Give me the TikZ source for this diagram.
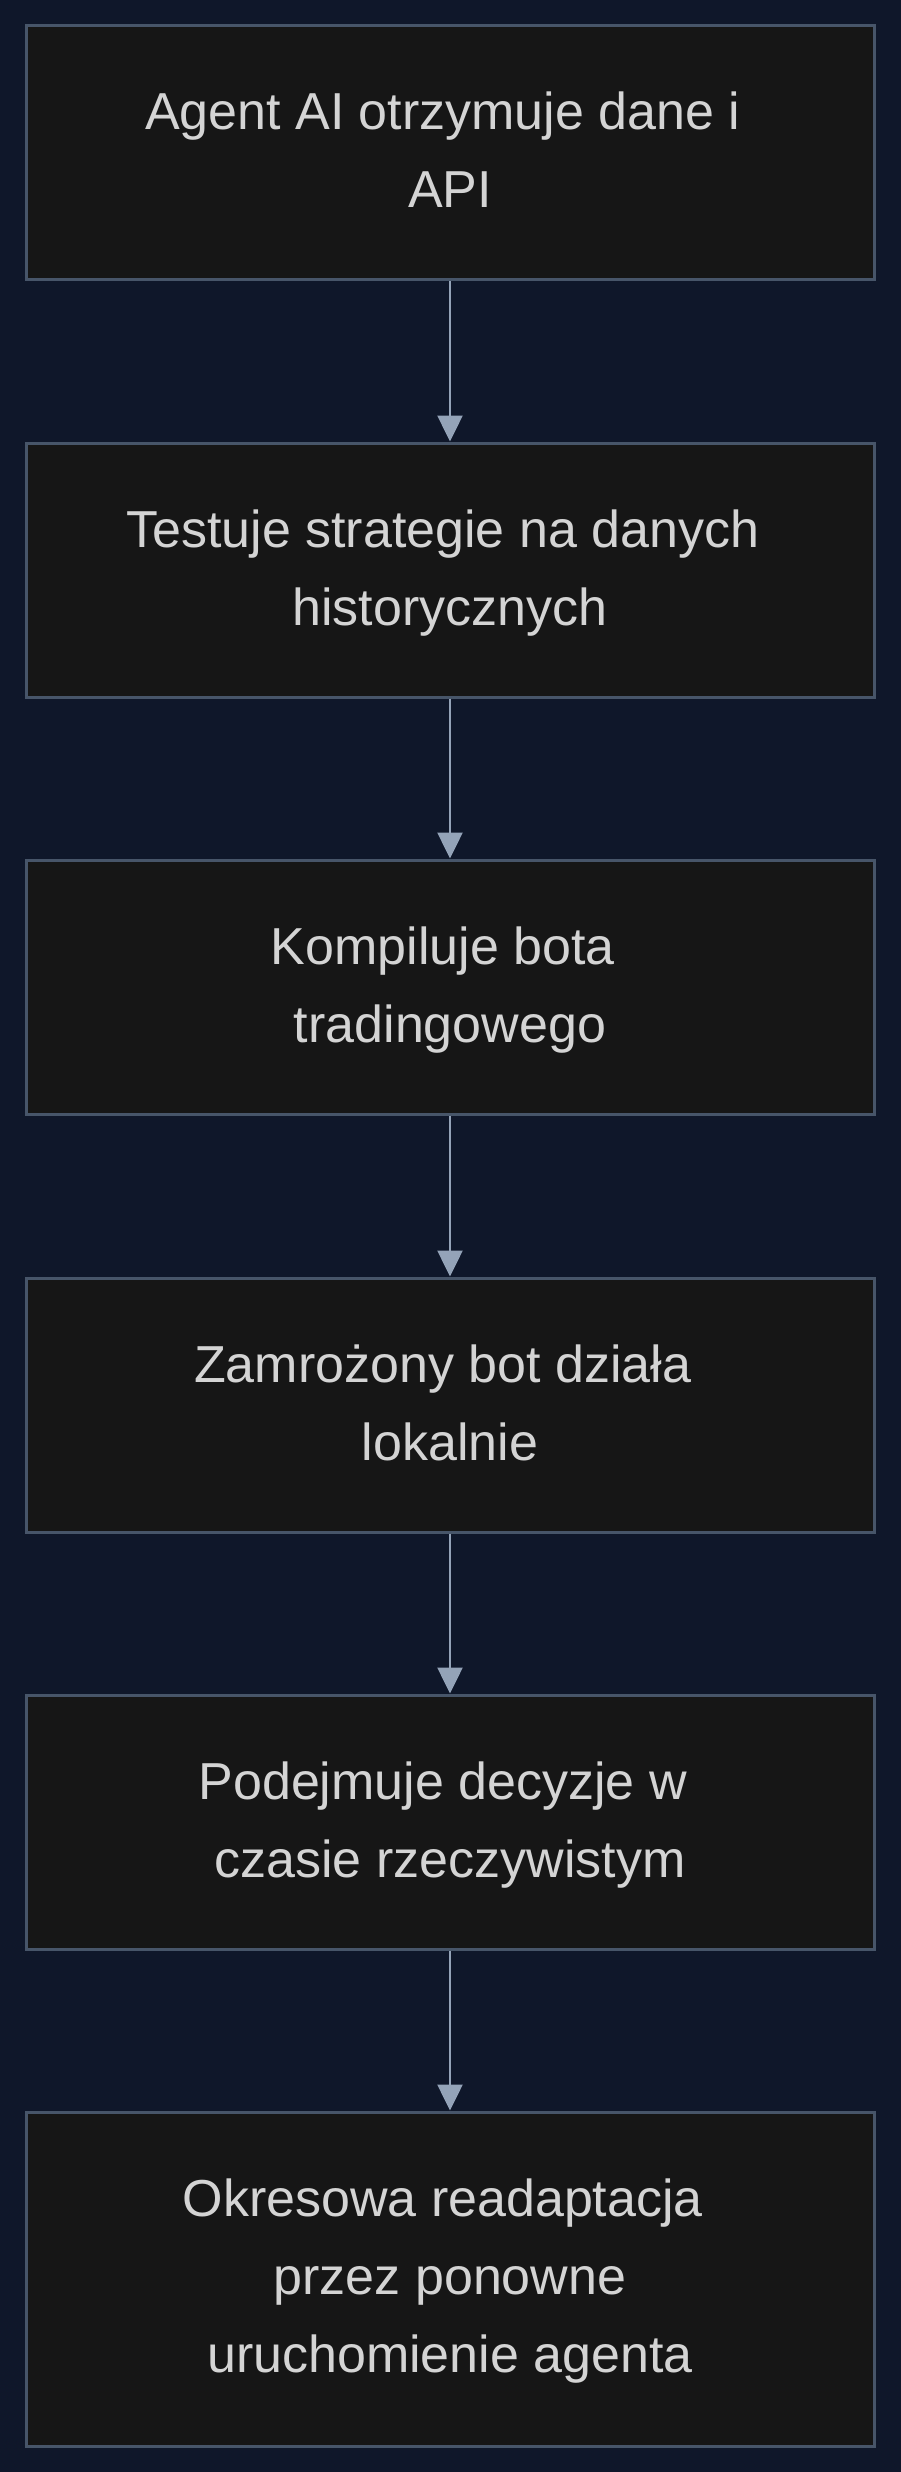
\documentclass[tikz,border=0pt]{standalone}
\usepackage{fontspec}
\setmainfont{Liberation Sans}
\usepackage{tikz}
\usetikzlibrary{calc,arrows.meta}

\definecolor{pagebg}{HTML}{0F172A}
\definecolor{boxfill}{HTML}{161616}
\definecolor{boxline}{HTML}{475569}
\definecolor{arrowcol}{HTML}{94A3B8}
\definecolor{labelcol}{HTML}{D4D4D4}

\newcommand{\tsp}{\hspace*{.278em}}

\begin{document}
\begin{tikzpicture}[x=1pt, y=-1pt,
    stage/.style={rectangle, fill=boxfill, draw=boxline, line width=3pt,
        minimum width=848pt, minimum height=254pt, inner sep=0pt, align=center,
        text=labelcol, font=\fontsize{52}{78}\selectfont,
        execute at begin node=\rule{0pt}{121pt},
        execute at end node=\rule[-11pt]{0pt}{0pt}},
    flow/.style={draw=arrowcol, line width=2.5pt,
        -{Triangle[width=25pt, length=26pt, fill=arrowcol]}}]
    \useasboundingbox (0,0) rectangle (900,2472);
    \fill[pagebg] (-10,-10) rectangle (910,2482);

    \node[stage] (receive) at (450,153) {Agent AI otrzymuje dane i\tsp\\API};
    
    \node[stage] (backtest) at ($(receive) + (0,417)$) {Testuje strategie na danych\tsp\\historycznych};
    
    \node[stage] (compile) at ($(backtest) + (0,417)$) {Kompiluje bota\tsp\\tradingowego};
    
    \node[stage] (frozen) at ($(compile) + (0,418)$) {Zamrożony bot działa\tsp\\lokalnie};
    
    \node[stage] (decide) at ($(frozen) + (0,417)$) {Podejmuje decyzje w\tsp\\czasie rzeczywistym};
    
    \node[stage, minimum height=334pt, execute at begin node=\rule{0pt}{198pt}] (retrain) at ($(decide) + (0,457)$) {Okresowa readaptacja\tsp\\przez ponowne\tsp\\uruchomienie agenta};
    
    \draw[flow] (receive) -- (backtest);
    \draw[flow] (backtest) -- (compile);
    \draw[flow] (compile) -- (frozen);
    \draw[flow] (frozen) -- (decide);
    \draw[flow] (decide) -- (retrain);
    
    \end{tikzpicture}
\end{document}
